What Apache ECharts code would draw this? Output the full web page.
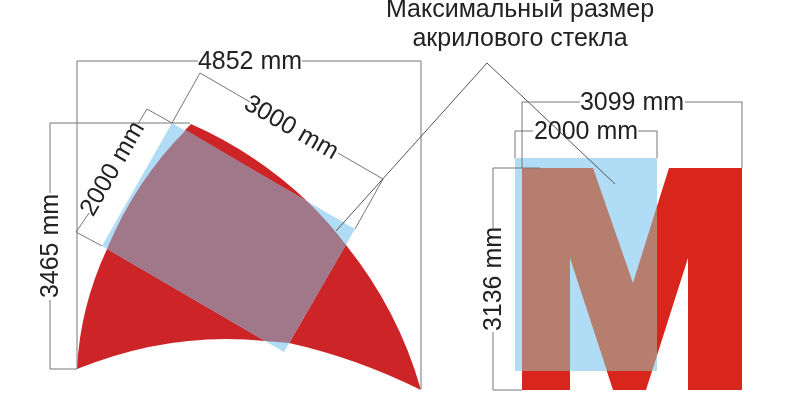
<html>

<head>
    <title>Максимальный размер акрилового стекла</title>
    <script src="https://cdn.jsdelivr.net/npm/echarts@6/dist/echarts.min.js"></script>
    <style>
        html, body { margin: 0; background: #fff; }
    </style>
</head>

<body>
    <div id="main" style="width:800px;height:400px;"></div>
    <script type="text/javascript">
        // everything below is read off the drawing, x/y in the axis units (0..800, 0..400)
        // arc shapes: each curve step is [point on curve, end point]
        var archStart = [77, 369];
        var archOutline = [
            [[86, 308], [107, 249]], [[141, 185], [186, 129]], [191, 124],
            [[253, 158], [308, 202]], [[328, 223], [346, 245]], [[391, 314], [421, 390]],
            [[355, 362], [289, 343]], [[277, 342], [265, 341]], [[171, 343], [77, 369]]
        ];
        var archGlassStart = [107, 249];
        var archGlassOutline = [
            [[141, 185], [186, 130]], [308, 202], [[328, 223], [346, 245]],
            [289, 343], [[277, 342], [265, 341]]
        ];
        var archGlass = [[172, 123], [355, 229], [284, 352], [102, 246]];

        var letterM = [
            [522, 168], [593, 168], [633, 283], [669, 168], [742, 168], [742, 390], [688, 390],
            [688, 258], [646, 390], [613, 390], [570, 258], [570, 390], [522, 390]
        ];
        var letterGlass = [[515, 158], [657, 158], [657, 371], [515, 371]];
        var letterOverlap = [
            [522, 168], [593, 168], [633, 283], [657, 206], [657, 356], [652, 371],
            [607, 371], [570, 258], [570, 371], [522, 371]
        ];

        var dimLines = [
            [[77, 369], [77, 61], [198, 61]],
            [[302, 61], [421, 61], [421, 389]],
            [[190, 123], [50, 123], [50, 193]],
            [[50, 300], [50, 369], [77, 369]],
            [[172, 123], [147, 109], [138, 124]],
            [[89, 213], [76, 232], [102, 246]],
            [[172, 123], [200, 73], [250, 102]],
            [[338, 153], [383, 179], [355, 229]],
            [[522, 168], [522, 102], [580, 102]],
            [[685, 102], [742, 102], [742, 168]],
            [[515, 158], [515, 131], [533, 131]],
            [[638, 131], [657, 131], [657, 158]],
            [[540, 168], [493, 168], [493, 228]],
            [[493, 332], [493, 390], [522, 390]]
        ];
        var leaderLines = [
            [[336, 231], [487, 63], [615, 184]]
        ];

        var dimLabels = ['4852 mm', '3465 mm', '2000 mm', '3000 mm', '3099 mm', '2000 mm', '3136 mm'];
        var dimLabelPos = [[250, 62], [51.5, 246], [113, 169], [291, 128], [632, 103], [586, 132], [494.5, 279]];
        var dimLabelAngle = [0, 90, 60, -30, 0, 0, 90];

        var titleLines = ['Максимальный размер', 'акрилового стекла'];
        var titlePos = [[520, 10], [520, 39]];

        function polygonSeries(points, color) {
            return {
                type: 'custom',
                coordinateSystem: 'cartesian2d',
                silent: true,
                data: points,
                renderItem: function (params, api) {
                    if (params.dataIndex !== 0) return null;
                    return {
                        type: 'polygon',
                        shape: { points: points.map(function (p) { return api.coord(p); }) },
                        style: { fill: color }
                    };
                }
            };
        }

        // curve: three points on the curve turn into one quadratic step
        function curveSeries(start, steps, color) {
            return {
                type: 'custom',
                coordinateSystem: 'cartesian2d',
                silent: true,
                data: [start],
                renderItem: function (params, api) {
                    var prev = api.coord(start);
                    var d = 'M' + prev[0] + ' ' + prev[1];
                    steps.forEach(function (s) {
                        if (Array.isArray(s[0])) {
                            var m = api.coord(s[0]);
                            var e = api.coord(s[1]);
                            var cx = 2 * m[0] - (prev[0] + e[0]) / 2;
                            var cy = 2 * m[1] - (prev[1] + e[1]) / 2;
                            d += 'Q' + cx + ' ' + cy + ' ' + e[0] + ' ' + e[1];
                            prev = e;
                        } else {
                            prev = api.coord(s);
                            d += 'L' + prev[0] + ' ' + prev[1];
                        }
                    });
                    return {
                        type: 'path',
                        shape: { pathData: d + 'Z' },
                        style: { fill: color }
                    };
                }
            };
        }

        function textSeries(texts, positions, angles, size, color) {
            return {
                type: 'custom',
                coordinateSystem: 'cartesian2d',
                silent: true,
                z: 5,
                data: positions,
                renderItem: function (params, api) {
                    var p = api.coord(positions[params.dataIndex]);
                    var angle = angles ? angles[params.dataIndex] : 0;
                    return {
                        type: 'text',
                        x: p[0],
                        y: p[1],
                        rotation: angle * Math.PI / 180,
                        style: {
                            text: texts[params.dataIndex],
                            font: size + 'px "Liberation Sans"',
                            fill: color,
                            align: 'center',
                            verticalAlign: 'middle'
                        }
                    };
                }
            };
        }

        function lineSeries(points, color, width) {
            return {
                type: 'line',
                data: points,
                silent: true,
                showSymbol: false,
                z: 4,
                lineStyle: { color: color, width: width }
            };
        }

        var series = [
            curveSeries(archStart, archOutline, '#cd2527'),
            polygonSeries(archGlass, '#b1dcf5'),
            curveSeries(archGlassStart, archGlassOutline, '#a1788a'),
            polygonSeries(letterM, '#d9261c'),
            polygonSeries(letterGlass, '#b1dcf5'),
            polygonSeries(letterOverlap, '#b67e6f')
        ];
        dimLines.forEach(function (l) { series.push(lineSeries(l, '#777777', 1)); });
        leaderLines.forEach(function (l) { series.push(lineSeries(l, '#555555', 1)); });
        series.push(textSeries(dimLabels, dimLabelPos, dimLabelAngle, 25, '#222222'));
        series.push(textSeries(titleLines, titlePos, null, 25, '#222222'));

        var myChart = echarts.init(document.getElementById('main'));
        var option = {
            animation: false,
            backgroundColor: '#ffffff',
            grid: { left: 0, right: 0, top: 0, bottom: 0 },
            xAxis: { type: 'value', min: 0, max: 800, show: false },
            yAxis: { type: 'value', min: 0, max: 400, inverse: true, show: false },
            series: series
        };
        myChart.setOption(option);
    </script>
</body>

</html>
